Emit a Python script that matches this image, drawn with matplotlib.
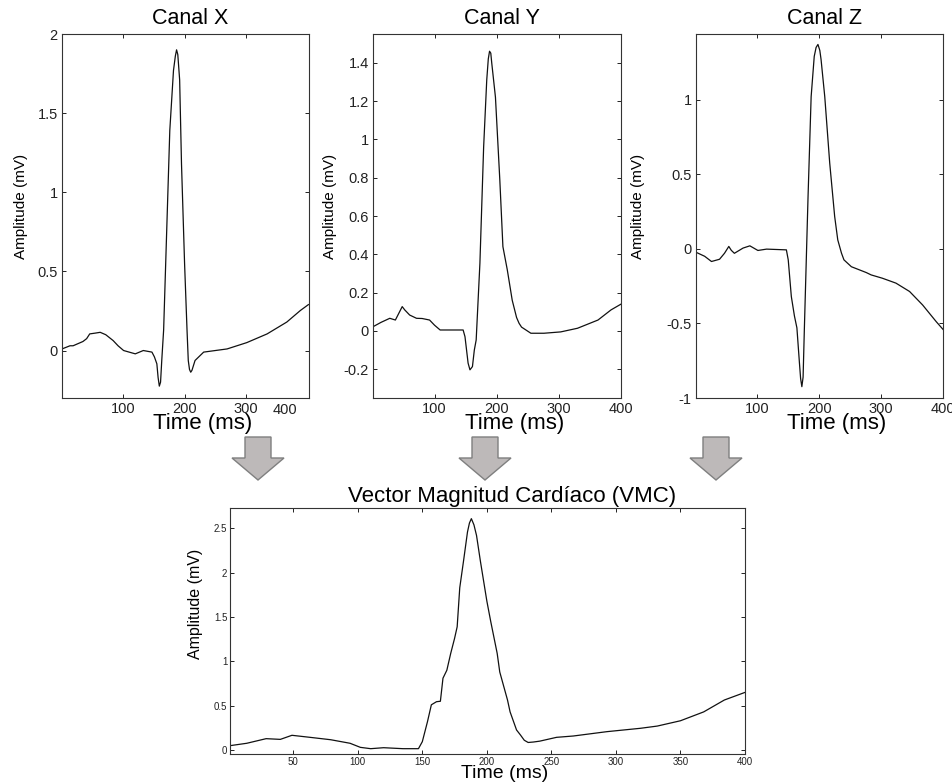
import matplotlib
matplotlib.use('Agg')
import matplotlib.pyplot as plt
from matplotlib.patches import Polygon

# ---- data (time in ms, amplitude in mV) ----
t_x = [1, 14, 19, 35, 41, 46, 55, 63, 72, 84, 92, 101, 110, 120, 133, 147, 151, 155,
       157, 159, 161, 163, 166, 171, 176, 182, 185, 187, 189, 192, 195, 200, 204, 206,
       208, 210, 212, 217, 231, 250, 269, 301, 334, 366, 388, 401]
v_x = [0.01, 0.03, 0.03, 0.057, 0.075, 0.105, 0.11, 0.115, 0.10, 0.063, 0.03, 0.0,
       -0.01, -0.021, 0.0, -0.01, -0.04, -0.084, -0.17, -0.225, -0.20, -0.06, 0.13,
       0.76, 1.39, 1.77, 1.86, 1.90, 1.87, 1.71, 1.18, 0.55, 0.127, -0.063, -0.12,
       -0.137, -0.125, -0.063, -0.01, 0.0, 0.01, 0.05, 0.105, 0.18, 0.253, 0.29]

t_y = [1, 14, 28, 37, 48, 52, 60, 71, 80, 92, 100, 109, 125, 146, 149, 154, 157, 161,
       164, 167, 173, 179, 184, 186.5, 188.5, 190.5, 192, 198, 205, 210, 217, 225, 232,
       236, 240, 255, 276, 303, 330, 363, 384, 400]
v_y = [0.022, 0.045, 0.066, 0.057, 0.127, 0.11, 0.083, 0.066, 0.065, 0.057, 0.03,
       0.005, 0.005, 0.005, -0.03, -0.168, -0.203, -0.186, -0.10, -0.047, 0.353, 0.96,
       1.31, 1.42, 1.46, 1.45, 1.40, 1.22, 0.79, 0.44, 0.32, 0.16, 0.07, 0.04, 0.02,
       -0.012, -0.012, -0.005, 0.014, 0.057, 0.11, 0.14]

t_z = [2, 15, 26, 39, 47, 54, 58, 63, 77, 88, 101, 115, 147, 150, 155, 160, 164, 168,
       170, 172, 174, 176, 182, 187, 192, 195, 198, 201, 203, 209, 217, 225, 230, 236,
       240, 252, 276, 284, 302, 324, 346, 367, 389, 400]
v_z = [-0.025, -0.05, -0.085, -0.07, -0.03, 0.016, -0.01, -0.03, 0.005, 0.02, -0.011,
       -0.002, -0.007, -0.074, -0.32, -0.45, -0.53, -0.76, -0.87, -0.924, -0.86, -0.544,
       0.35, 1.02, 1.29, 1.35, 1.37, 1.33, 1.27, 1.02, 0.575, 0.217, 0.06, -0.029,
       -0.074, -0.12, -0.159, -0.175, -0.197, -0.23, -0.286, -0.376, -0.488, -0.54]

t_vmc = [1, 14, 29, 40, 49, 63, 79, 94, 102, 110, 120, 135, 147, 150, 154, 157, 161,
         164, 166, 169, 172, 175, 177, 179, 182, 185, 186.5, 188, 190, 192, 195, 200,
         203, 208, 210, 216, 218, 223, 226, 229, 232, 236, 241, 254, 267, 293, 319, 332,
         350, 368, 384, 400]
v_vmc = [0.049, 0.076, 0.128, 0.12, 0.166, 0.143, 0.116, 0.076, 0.03, 0.015, 0.026,
         0.015, 0.015, 0.094, 0.32, 0.51, 0.545, 0.55, 0.81, 0.90, 1.09, 1.26, 1.39,
         1.83, 2.14, 2.46, 2.56, 2.61, 2.54, 2.42, 2.13, 1.68, 1.45, 1.09, 0.88, 0.564,
         0.43, 0.226, 0.17, 0.11, 0.085, 0.09, 0.10, 0.143, 0.158, 0.207, 0.245, 0.27,
         0.33, 0.43, 0.564, 0.65]

titles = ['Canal X', 'Canal Y', 'Canal Z']
yticks_top = [[0, 0.5, 1, 1.5, 2],
              [-0.2, 0, 0.2, 0.4, 0.6, 0.8, 1, 1.2, 1.4],
              [-1, -0.5, 0, 0.5, 1]]
ylabels_top = [['0', '0.5', '1', '1.5', '2'],
               ['-0.2', '0', '0.2', '0.4', '0.6', '0.8', '1', '1.2', '1.4'],
               ['-1', '-0.5', '0', '0.5', '1']]
yticks_vmc = [0, 0.5, 1, 1.5, 2, 2.5]
ylabels_vmc = ['0', '0.5', '1', '1.5', '2', '2.5']
xticks_vmc = [50, 100, 150, 200, 250, 300, 350, 400]

plt.rcParams['font.family'] = ['Liberation Sans', 'DejaVu Sans']
plt.rcParams['axes.unicode_minus'] = False

W, H = 953, 783
fig = plt.figure(figsize=(W / 100, H / 100), dpi=100)


def px_axes(left, top, right, bottom):
    """Axes from pixel box (origin top-left)."""
    return fig.add_axes([left / W, (H - bottom) / H, (right - left) / W, (bottom - top) / H])


def style(ax, tick_size, pad):
    for s in ax.spines.values():
        s.set_linewidth(0.8)
        s.set_color('#333333')
    ax.tick_params(direction='in', length=3, width=0.7, top=True, right=True,
                   labelsize=tick_size, pad=pad, colors='#222222')


boxes = [(62, 34, 309, 398), (373, 34, 621, 398), (696, 34, 943, 398)]
ylims = [(-0.3, 2.0), (-0.35, 1.55), (-1.0, 1.44)]
ylab_x = [-0.138, -0.145, -0.206]
series = [(t_x, v_x), (t_y, v_y), (t_z, v_z)]

for i in range(3):
    ax = px_axes(*boxes[i])
    t, v = series[i]
    ax.plot(t, v, color='#111111', lw=0.9)
    ax.set_xlim(1, 402 if i == 0 else 400)
    ax.set_ylim(*ylims[i])
    ax.set_yticks(yticks_top[i], ylabels_top[i])
    if i == 0:
        ax.set_xticks([100, 200, 300], ['100', '200', '300'])
        ax.annotate('400', xy=(1, 0), xycoords='axes fraction', xytext=(-17, -3.5),
                    textcoords='offset points', ha='center', va='top', fontsize=10.5,
                    color='#222222')
    else:
        ax.set_xticks([100, 200, 300, 400], ['100', '200', '300', '400'])
    style(ax, 10.5, 3)
    ax.set_title(titles[i], fontsize=15.5, x=0.52, pad=7)
    ax.set_xlabel('Time (ms)', fontsize=16)
    ax.xaxis.set_label_coords(0.57, -0.04)
    ax.set_ylabel('Amplitude (mV)', fontsize=11)
    ax.yaxis.set_label_coords(ylab_x[i], 0.525)

# bottom panel: vector magnitude
ax = px_axes(230, 508, 745, 754)
ax.plot(t_vmc, v_vmc, color='#111111', lw=0.9)
ax.set_xlim(1, 400)
ax.set_ylim(-0.045, 2.73)
ax.set_yticks(yticks_vmc, ylabels_vmc)
ax.set_xticks(xticks_vmc, [str(x) for x in xticks_vmc])
style(ax, 7, 2)
ax.set_title('Vector Magnitud Cardíaco (VMC)', fontsize=16, x=0.548, pad=4)
ax.set_xlabel('Time (ms)', fontsize=14)
ax.xaxis.set_label_coords(0.534, -0.045)
ax.set_ylabel('Amplitude (mV)', fontsize=11.5)
ax.yaxis.set_label_coords(-0.052, 0.61)

# grey block arrows between the rows (pixel geometry)
for cx in [258, 485, 716]:
    pts = [(cx - 13, 437), (cx + 13, 437), (cx + 13, 458), (cx + 26, 458),
           (cx, 480), (cx - 26, 458), (cx - 13, 458)]
    pts = [(x / W, 1 - y / H) for x, y in pts]
    fig.add_artist(Polygon(pts, closed=True, transform=fig.transFigure,
                           facecolor='#bdb9b9', edgecolor='#7f7f7f', lw=1))

fig.savefig('out.png', dpi=100)
